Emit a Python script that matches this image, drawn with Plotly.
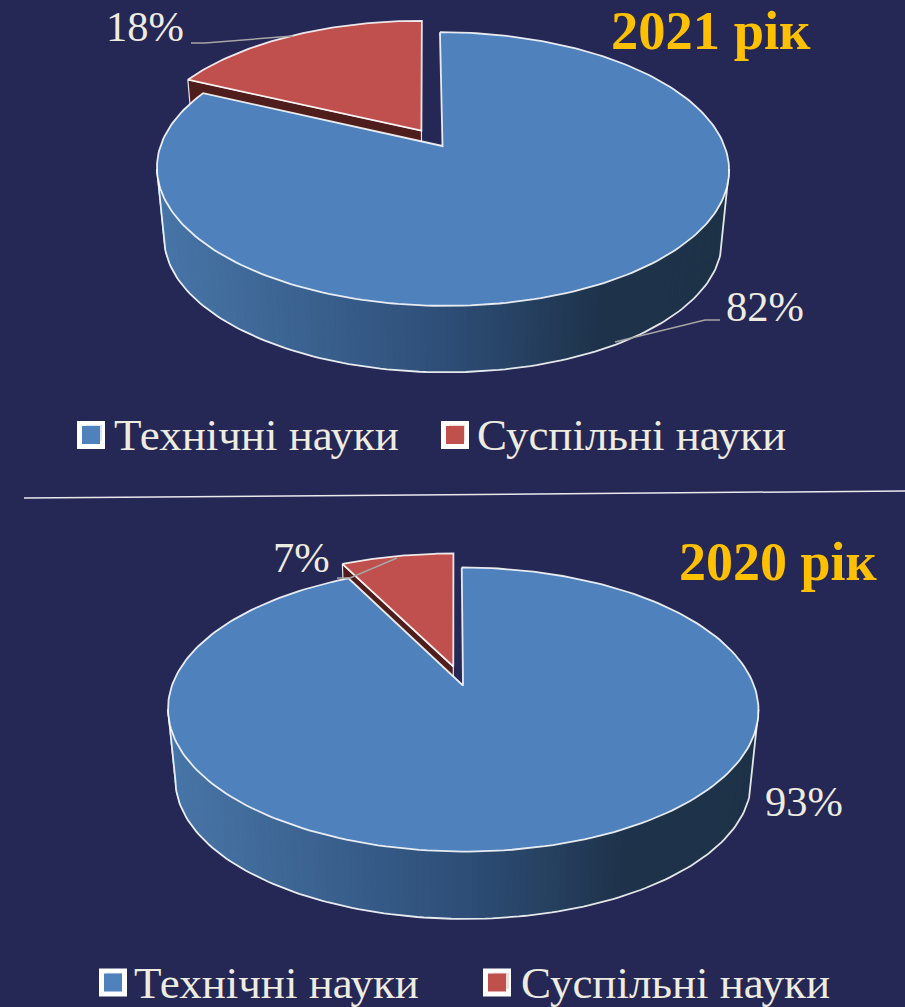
import math
import plotly.graph_objects as go

categories = ["Технічні науки", "Суспільні науки"]
shares_2021 = [82, 18]
shares_2020 = [92.6, 7.4]
title_2021 = "2021 рік"
title_2020 = "2020 рік"

BG = "#252754"
BLUE = "#4f81bd"
RED = "#c0504d"
DARK_RED = "#4f1d1b"
TEXT = "#eeece1"
GOLD = "#ffc000"
SERIF = "Liberation Serif"
OUT = "rgba(255,255,255,0.88)"
LEAD = "#a6a6a6"

fig = go.Figure()


def add_poly(xs, ys, fill, line=None, width=0):
    fig.add_trace(go.Scatter(
        x=xs, y=ys, mode="lines", fill="toself", fillcolor=fill,
        line=dict(color=line or fill, width=width), hoverinfo="skip", showlegend=False))


def add_line(xs, ys, color, width):
    fig.add_trace(go.Scatter(x=xs, y=ys, mode="lines", line=dict(color=color, width=width),
                             hoverinfo="skip", showlegend=False))


def wall_color(f):
    stops = [(0.0, (72, 118, 168)), (0.5, (46, 78, 120)), (0.78, (30, 51, 74)), (1.0, (30, 50, 72))]
    for (a0, c0), (a1, c1) in zip(stops, stops[1:]):
        if f <= a1:
            w = (f - a0) / (a1 - a0)
            return "rgb(%d,%d,%d)" % tuple(round(p + (q - p) * w) for p, q in zip(c0, c1))
    return "rgb(30,50,72)"


def draw_pie(shares, cx, apex_y, a, s, k, skew, explode, depth, shrink):
    def proj(u, v):
        den = 1 + k * v
        return cx + (a * u - skew * v) / den, apex_y - s * v / den

    def low(p):
        return cx + (p[0] - cx) * shrink, apex_y + (p[1] - apex_y) * shrink + depth

    total = sum(shares)
    split = 2 * math.pi * shares[0] / total
    mid = (split + 2 * math.pi) / 2
    ox, oy = explode * math.sin(mid), explode * math.cos(mid)

    ts_blue = [split * i / 240 for i in range(241)]
    ts_red = [split + (2 * math.pi - split) * i / 60 for i in range(61)]
    blue_rim = [proj(math.sin(t), math.cos(t)) for t in ts_blue]
    red_rim = [proj(math.sin(t) + ox, math.cos(t) + oy) for t in ts_red]
    apex = proj(0, 0)
    red_apex = proj(ox, oy)

    # cut face of the detached slice
    face = [red_rim[0], red_apex, low(red_apex), low(red_rim[0])]
    add_poly([p[0] for p in face] + [face[0][0]], [p[1] for p in face] + [face[0][1]], DARK_RED, OUT, 1.2)

    # front wall with its horizontal shading
    t0 = math.acos(-k)
    t1 = 2 * math.pi - t0
    n = 140
    edge = [proj(math.sin(t0 + (t1 - t0) * i / n), math.cos(t0 + (t1 - t0) * i / n)) for i in range(n + 1)]
    xmin, xmax = min(p[0] for p in edge), max(p[0] for p in edge)
    for i in range(n):
        p, q = edge[i], edge[i + 1]
        f = ((p[0] + q[0]) / 2 - xmin) / (xmax - xmin)
        col = wall_color(f)
        lp, lq = low(p), low(q)
        add_poly([p[0], q[0], lq[0], lp[0], p[0]], [p[1], q[1], lq[1], lp[1], p[1]], col, col, 1)
    under = [edge[0]] + [low(p) for p in edge] + [edge[-1]]
    add_line([p[0] for p in under], [p[1] for p in under], OUT, 1.8)

    # blue top
    pts = blue_rim + [apex, blue_rim[0]]
    add_poly([p[0] for p in pts], [p[1] for p in pts], BLUE, OUT, 1.8)

    # red top
    pts = red_rim + [red_apex, red_rim[0]]
    add_poly([p[0] for p in pts], [p[1] for p in pts], RED, OUT, 1.8)


draw_pie(shares_2021, 442.5, 146, 282, 133, 0.168, 3, 0.14, 70.5, 0.975)
draw_pie(shares_2020, 463, 685.5, 291, 138, 0.169, 1.5, 0.145, 71.5, 0.975)

# leader lines
add_line([191, 205, 293], [43, 43, 36], LEAD, 1.5)
add_line([720, 705, 615], [320, 320, 342], LEAD, 1.5)
add_line([337, 350, 397], [578, 578, 558], LEAD, 1.5)

# legend swatches (larger than plotly's capped legend symbols) and legend entries
swatches = [(91, 435, BLUE), (455, 435, RED), (113, 982.5, BLUE), (497, 982.5, RED)]
for x, y, col in swatches:
    fig.add_trace(go.Scatter(
        x=[x], y=[y], mode="markers", hoverinfo="skip", showlegend=False,
        marker=dict(symbol="square", size=23, color=col, line=dict(color="white", width=5))))
for idx, (name, col) in enumerate(zip(categories, [BLUE, RED])):
    for lg in ("legend", "legend2"):
        fig.add_trace(go.Scatter(
            x=[None], y=[None], mode="markers", name=name, legend=lg,
            marker=dict(symbol="square", size=16, color=col, opacity=0, line=dict(width=0))))

annos = [
    (f"{round(shares_2021[1])}%", 144.5, 26, 42.5, TEXT, False),
    (f"{round(shares_2021[0])}%", 765, 306, 42.5, TEXT, False),
    (f"{round(shares_2020[1])}%", 301, 557, 42.5, TEXT, False),
    (f"{round(shares_2020[0])}%", 804, 801, 42.5, TEXT, False),
    (title_2021, 711, 30, 54.5, GOLD, True),
    (title_2020, 778, 562, 54, GOLD, True),
]
annotations = [
    dict(x=x, y=y, xref="x", yref="y", text=f"<b>{t}</b>" if b else t, showarrow=False,
         xanchor="center", yanchor="middle", font=dict(family=SERIF, size=sz, color=c))
    for t, x, y, sz, c, b in annos
]

legend_style = dict(orientation="h", xanchor="left", yanchor="middle", bgcolor="rgba(0,0,0,0)",
                    font=dict(family=SERIF, size=45, color=TEXT), itemclick=False, itemdoubleclick=False,
                    entrywidthmode="pixels")

fig.update_layout(
    width=905, height=1007, margin=dict(l=0, r=0, t=0, b=0, autoexpand=False),
    paper_bgcolor=BG, plot_bgcolor=BG,
    xaxis=dict(range=[0, 905], visible=False, fixedrange=True),
    yaxis=dict(range=[1007, 0], visible=False, fixedrange=True),
    annotations=annotations,
    shapes=[dict(type="line", x0=24, y0=498, x1=905, y1=491, xref="x", yref="y",
                 line=dict(color="rgba(255,255,255,0.9)", width=1.5))],
    legend=dict(x=74 / 905, y=1 - 433 / 1007, entrywidth=318, **legend_style),
    legend2=dict(x=94 / 905, y=1 - 981 / 1007, entrywidth=342, **legend_style),
    hovermode=False,
)

fig.write_html("out.html", config={"displayModeBar": False},
               post_script="document.body.style.margin='0';document.body.style.background='%s';document.documentElement.style.overflow='hidden';" % BG)
